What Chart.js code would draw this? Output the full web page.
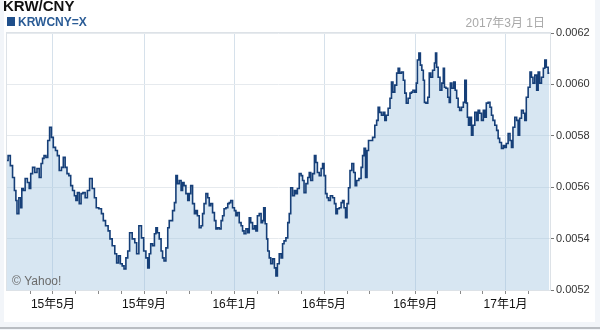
<!DOCTYPE html>
<html lang="ja">
<head>
<meta charset="UTF-8">
<title>KRW/CNY</title>
<script src="https://cdn.jsdelivr.net/npm/chart.js"></script>
<style>
  html, body { margin: 0; padding: 0; background: #f2f5f9; }
  #wrap { width: 600px; height: 330px; }
</style>
</head>
<body>
<div id="wrap"><canvas id="fx" width="600" height="330"></canvas></div>
<script>
const FONT = 'Arial, "Liberation Sans", "Noto Sans CJK JP", sans-serif';

// x = days since 2015-03-01, y = KRW/CNY close
const dayIndex = [
  -1, 2, 5, 8, 10, 12, 13, 17, 18, 20, 22, 25, 28, 30, 32, 35, 38, 41, 44, 46,
  48, 50, 53, 55, 58, 60, 63, 66, 68, 71, 74, 76, 79, 81, 84, 86, 89, 91, 93, 95,
  98, 100, 103, 106, 109, 112, 116, 118, 121, 125, 128, 130, 134, 137, 139, 143, 146, 148, 151, 153,
  156, 158, 161, 163, 166, 170, 173, 175, 179, 182, 185, 188, 190, 192, 194, 197, 199, 201, 203, 206,
  208, 210, 212, 215, 217, 219, 221, 224, 226, 228, 230, 233, 235, 237, 239, 242, 244, 246, 248, 251,
  253, 255, 257, 260, 262, 264, 266, 269, 271, 273, 275, 278, 280, 282, 284, 287, 289, 291, 293, 296,
  298, 300, 302, 305, 307, 309, 311, 314, 316, 318, 320, 323, 325, 327, 329, 332, 334, 336, 338, 341,
  343, 345, 346, 349, 350, 352, 354, 356, 359, 361, 363, 365, 368, 370, 372, 374, 377, 379, 381, 383,
  386, 388, 390, 392, 395, 397, 399, 401, 404, 406, 408, 410, 413, 415, 417, 419, 422, 424, 426, 428,
  430, 432, 434, 437, 440, 442, 444, 446, 449, 451, 453, 455, 457, 459, 461, 463, 466, 468, 470, 472,
  476, 478, 480, 482, 484, 486, 488, 491, 494, 497, 499, 501, 503, 506, 508, 510, 512, 515, 517, 519,
  521, 524, 526, 528, 530, 533, 535, 537, 539, 542, 544, 546, 548, 551, 552, 554, 556, 558, 560, 562,
  563, 566, 568, 570, 572, 575, 577, 578, 580, 582, 585, 587, 589, 590, 593, 595, 597, 598, 601, 603,
  605, 607, 609, 611, 614, 616, 618, 620, 621, 623, 625, 627, 629, 632, 634, 636, 638, 641, 643, 645,
  647, 650, 652, 654, 656, 659, 661, 663, 665, 668, 670, 672, 674, 677, 679, 681, 683, 686, 688, 690,
  692, 695, 697, 699, 701, 704, 706, 708, 710, 713, 715, 717, 719, 722, 724, 726, 728, 731
];
const rate = [
  .005704, .005723, .005684, .005638, .005587, .005548, .005497, .005559, .005520, .005595, .005587, .005634, .005618, .005595, .005653, .005677, .005657, .005673, .005638, .005692,
  .005712, .005723, .005716, .005782, .005833, .005794, .005755, .005743, .005723, .005665, .005677, .005716, .005677, .005653, .005645, .005606, .005587, .005567, .005548, .005579,
  .005536, .005575, .005579, .005559, .005587, .005634, .005595, .005559, .005520, .005516, .005497, .005470, .005450, .005430, .005399, .005372, .005341, .005305, .005333, .005302,
  .005294, .005282, .005325, .005352, .005423, .005399, .005384, .005341, .005450, .005403, .005352, .005325, .005286, .005341, .005380, .005372, .005419, .005442, .005423, .005399,
  .005352, .005325, .005313, .005364, .005442, .005470, .005470, .005509, .005540, .005645, .005614, .005626, .005587, .005618, .005606, .005575, .005548, .005575, .005606, .005536,
  .005497, .005509, .005489, .005442, .005450, .005497, .005536, .005575, .005559, .005528, .005536, .005501, .005470, .005438, .005442, .005438, .005470, .005489, .005516, .005520,
  .005536, .005540, .005548, .005520, .005509, .005489, .005501, .005462, .005450, .005430, .005419, .005438, .005423, .005481, .005462, .005438, .005450, .005430, .005489, .005497,
  .005462, .005470, .005520, .005458, .005399, .005352, .005325, .005302, .005321, .005286, .005255, .005302, .005341, .005325, .005380, .005391, .005403, .005462, .005497, .005598,
  .005567, .005587, .005575, .005595, .005653, .005645, .005626, .005579, .005614, .005638, .005657, .005626, .005653, .005723, .005696, .005657, .005645, .005673, .005692, .005645,
  .005575, .005559, .005548, .005567, .005559, .005536, .005497, .005516, .005520, .005540, .005548, .005520, .005481, .005536, .005598, .005665, .005692, .005657, .005606, .005626,
  .005634, .005677, .005723, .005751, .005638, .005743, .005782, .005782, .005794, .005841, .005860, .005911, .005891, .005880, .005891, .005860, .005880, .005907, .005946, .006009,
  .005970, .005997, .006044, .006063, .006044, .006048, .006016, .005966, .005927, .005946, .005966, .005970, .005977, .005970, .006005, .006095, .006122, .006075, .006055, .006016,
  .005930, .005927, .005950, .006044, .006028, .006055, .006083, .006122, .006067, .006028, .005977, .006005, .006063, .005989, .005985, .005950, .005930, .006005, .005985, .006009,
  .005977, .005946, .005911, .005899, .005911, .005930, .006016, .005927, .005872, .005841, .005872, .005802, .005841, .005891, .005860, .005899, .005888, .005860, .005899, .005872,
  .005927, .005930, .005911, .005880, .005860, .005841, .005821, .005790, .005774, .005751, .005762, .005755, .005770, .005809, .005782, .005755, .005833, .005872, .005860, .005802,
  .005868, .005899, .005888, .005860, .005950, .005989, .006048, .006028, .006005, .006036, .005977, .006048, .006005, .006028, .006063, .006095, .006067, .006044
];

const yTicks = [0.0052, 0.0054, 0.0056, 0.0058, 0.0060, 0.0062];
const labelMonths = ['2015-05', '2015-09', '2016-01', '2016-05', '2016-09', '2017-01'];
const labelTexts = ['15年5月', '15年9月', '16年1月', '16年5月', '16年9月', '17年1月'];

const base = Date.UTC(2015, 2, 1);
function dayOf(ym) {
  const [y, m] = ym.split('-').map(Number);
  return Math.round((Date.UTC(y, m - 1, 1) - base) / 86400000);
}

// monthly tick marks Apr 2015 .. Feb 2017
const monthDays = [];
for (let y = 2015, m = 4; y < 2017 || m <= 2; ) {
  monthDays.push(dayOf(y + '-' + m));
  m++;
  if (m > 12) { m = 1; y++; }
}
const majorLabel = {};
labelMonths.forEach((k, i) => { majorLabel[dayOf(k)] = labelTexts[i]; });

const decor = {
  id: 'decor',
  beforeDraw(chart) {
    const c = chart.ctx;
    c.save();
    c.fillStyle = '#f2f5f9';
    c.fillRect(0, 0, 600, 330);
    c.fillStyle = '#ffffff';
    c.fillRect(4, 0, 591, 322);
    c.fillStyle = '#b9bdc2';
    c.fillRect(0, 327, 600, 2);
    c.restore();
  },
  afterDraw(chart) {
    const c = chart.ctx;
    const a = chart.chartArea;
    c.save();
    c.strokeStyle = '#dde2e7';
    c.lineWidth = 1;
    c.strokeRect(a.left - 0.5, a.top - 0.5, a.right - a.left + 1, a.bottom - a.top + 1);

    c.fillStyle = '#111';
    c.font = 'bold 15px ' + FONT;
    c.textBaseline = 'alphabetic';
    c.fillText('KRW/CNY', 3, 11);

    c.fillStyle = '#1f4f8b';
    c.fillRect(7, 17, 8, 9);
    c.fillStyle = '#2b5c96';
    c.font = 'bold 12px ' + FONT;
    c.fillText('KRWCNY=X', 18, 26);

    c.fillStyle = '#a8a8a8';
    c.font = '12px ' + FONT;
    c.textAlign = 'right';
    c.fillText('2017年3月 1日', 545, 27);

    c.textAlign = 'left';
    c.fillStyle = '#6a6a6a';
    c.fillText('© Yahoo!', 12, 285);
    c.restore();
  }
};

new Chart(document.getElementById('fx'), {
  type: 'line',
  data: {
    datasets: [{
      data: dayIndex.map((d, i) => ({ x: d, y: rate[i] })),
      borderColor: '#163f78',
      borderWidth: 1.6,
      backgroundColor: 'rgba(160,195,224,0.42)',
      fill: 'start',
      pointRadius: 0,
      stepped: 'middle'
    }]
  },
  options: {
    responsive: false,
    animation: false,
    layout: { padding: { left: 7, top: 33, right: 8, bottom: 0 } },
    plugins: { legend: { display: false }, tooltip: { enabled: false } },
    scales: {
      x: {
        type: 'linear',
        min: -1,
        max: 732,
        afterBuildTicks: s => { s.ticks = monthDays.map(v => ({ value: v })); },
        afterFit: s => { s.height = 40; },
        border: { display: false },
        grid: {
          color: ctx => (ctx.tick && majorLabel[ctx.tick.value] ? '#d6e1eb' : 'rgba(0,0,0,0)'),
          tickColor: '#8a8a8a',
          tickLength: 4
        },
        ticks: {
          autoSkip: false,
          maxRotation: 0,
          padding: 3,
          color: '#111',
          font: { family: FONT, size: 12 },
          callback: v => majorLabel[v] || ''
        }
      },
      y: {
        position: 'right',
        min: 0.0052,
        max: 0.0062,
        afterBuildTicks: s => { s.ticks = yTicks.map(v => ({ value: v })); },
        afterFit: s => { s.width = 42; },
        border: { display: false },
        grid: { color: '#e6eaee', tickColor: '#777', tickLength: 4 },
        ticks: {
          padding: 2,
          color: '#333',
          font: { family: FONT, size: 11 },
          callback: v => v.toFixed(4)
        }
      }
    }
  },
  plugins: [decor]
});
</script>
</body>
</html>
